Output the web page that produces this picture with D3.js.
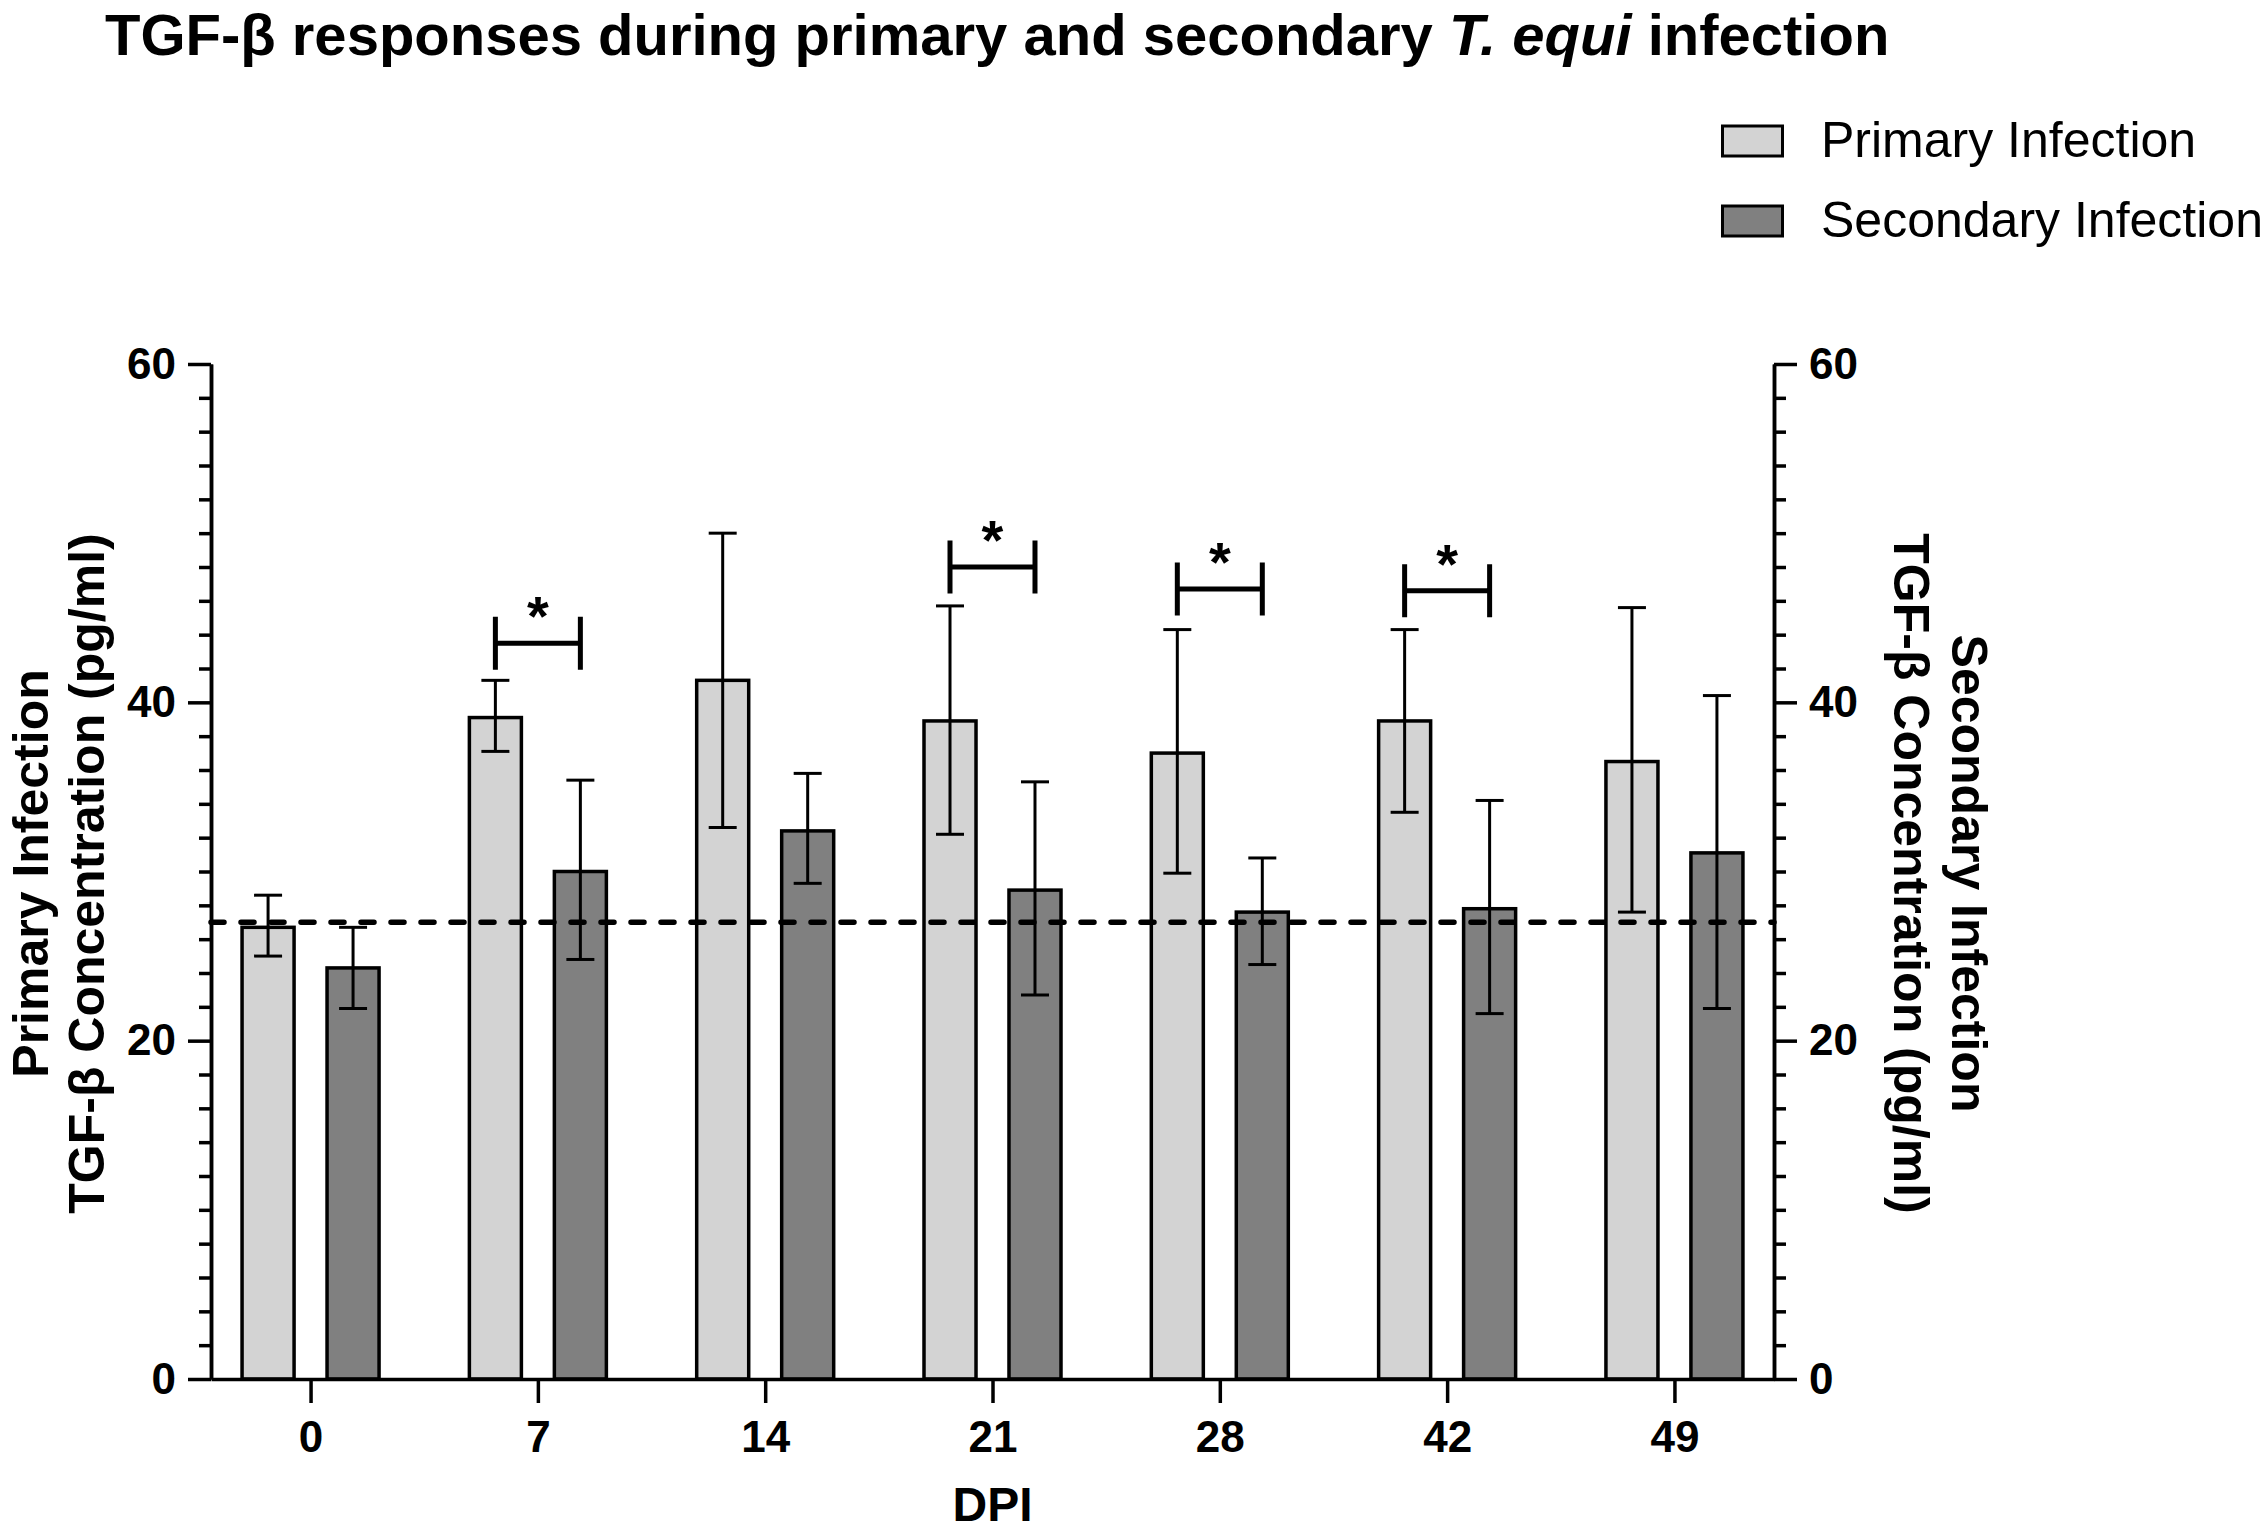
<!DOCTYPE html>
<html>
<head>
<meta charset="utf-8">
<script src="https://cdn.jsdelivr.net/npm/d3@7"></script>
<style>
  body { margin: 0; background: #fff; }
  text { font-family: "Liberation Sans", Arial, sans-serif; }
</style>
</head>
<body>
<div id="main-chart"></div>
<script>
// data
let days = ['0', '7', '14', '21', '28', '42', '49'];
let seriesNames = ['Primary Infection', 'Secondary Infection'];
let primaryMean  = [26.7, 39.1, 41.3, 38.9, 37.0, 38.9, 36.5];
let primaryUp    = [28.6, 41.3, 50.0, 45.7, 44.3, 44.3, 45.6];
let primaryLow   = [25.0, 37.1, 32.6, 32.2, 29.9, 33.5, 27.6];
let secondaryMean = [24.3, 30.0, 32.4, 28.9, 27.6, 27.8, 31.1];
let secondaryUp   = [26.7, 35.4, 35.8, 35.3, 30.8, 34.2, 40.4];
let secondaryLow  = [21.9, 24.8, 29.3, 22.7, 24.5, 21.6, 21.9];
let baselineLevel = 27.0;
let sigDays = ['7', '21', '28', '42'];
let sigLevels = [43.5, 48.0, 46.7, 46.6];
let majorTicks = [0, 20, 40, 60];

let W = 2267, H = 1531;
let plot = {left: 211, right: 1774, top: 364, bottom: 1379};
let colors = ['#d3d3d3', '#808080'];

let svg = d3.select('#main-chart')
  .append('svg')
  .attr('width', W)
  .attr('height', H)
  .style('background', '#fff');

//Scales
let x = d3.scalePoint()
  .domain(days)
  .range([plot.left, plot.right])
  .padding(0.438);

let xSub = d3.scaleBand()
  .domain(seriesNames)
  .range([-68.5, 68.5])
  .paddingInner(0.388)
  .paddingOuter(0);

let y = d3.scaleLinear()
  .domain([0, 60])
  .range([plot.bottom, plot.top]);

let minorTicks = d3.range(0, 61, 2).filter(v => v % 20 !== 0);

//Build rows for bars
let rows = [];
days.forEach((d, i) => {
  rows.push({day: d, s: 0, mean: primaryMean[i], up: primaryUp[i], low: primaryLow[i]});
  rows.push({day: d, s: 1, mean: secondaryMean[i], up: secondaryUp[i], low: secondaryLow[i]});
});
let cx = r => x(r.day) + xSub(seriesNames[r.s]) + xSub.bandwidth() / 2;

//Title
let title = svg.append('text')
  .attr('x', 105)
  .attr('y', 55)
  .style('font-size', '58px')
  .style('font-weight', 'bold');
title.append('tspan').text('TGF-β responses during primary and secondary ');
title.append('tspan').style('font-style', 'italic').text('T. equi');
title.append('tspan').text(' infection');

//Legend
let legend = svg.append('g');
seriesNames.forEach((name, i) => {
  legend.append('rect')
    .attr('x', 1722.5)
    .attr('y', 126 + i * 80)
    .attr('width', 60)
    .attr('height', 30)
    .style('fill', colors[i])
    .style('stroke', '#000')
    .style('stroke-width', 3);
  legend.append('text')
    .attr('x', 1821)
    .attr('y', 157 + i * 80)
    .style('font-size', '50px')
    .text(name);
});

//Bars
svg.selectAll('.bar')
  .data(rows)
  .join('rect')
  .attr('class', 'bar')
  .attr('x', r => x(r.day) + xSub(seriesNames[r.s]))
  .attr('y', r => y(r.mean))
  .attr('width', xSub.bandwidth())
  .attr('height', r => y(0) - y(r.mean))
  .style('fill', r => colors[r.s])
  .style('stroke', '#000')
  .style('stroke-width', 3.5);

//Dashed reference line
svg.append('line')
  .attr('x1', plot.left)
  .attr('x2', plot.right)
  .attr('y1', y(baselineLevel))
  .attr('y2', y(baselineLevel))
  .style('stroke', '#000')
  .style('stroke-width', 5.5)
  .style('stroke-dasharray', '13 17')
  .style('stroke-linecap', 'round');

//Error bars
let err = svg.selectAll('.err')
  .data(rows)
  .join('g')
  .attr('class', 'err')
  .style('stroke', '#000')
  .style('stroke-width', 3);
err.append('line')
  .attr('x1', cx).attr('x2', cx)
  .attr('y1', r => y(r.up)).attr('y2', r => y(r.low));
err.append('line')
  .attr('x1', r => cx(r) - 14).attr('x2', r => cx(r) + 14)
  .attr('y1', r => y(r.up)).attr('y2', r => y(r.up));
err.append('line')
  .attr('x1', r => cx(r) - 14).attr('x2', r => cx(r) + 14)
  .attr('y1', r => y(r.low)).attr('y2', r => y(r.low));

//Significance brackets
let sig = svg.selectAll('.sig')
  .data(sigDays.map((d, i) => ({day: d, level: sigLevels[i]})))
  .join('g')
  .attr('class', 'sig');
let x0 = d => x(d.day) + xSub(seriesNames[0]) + xSub.bandwidth() / 2;
let x1 = d => x(d.day) + xSub(seriesNames[1]) + xSub.bandwidth() / 2;
sig.append('path')
  .attr('d', d => `M${x0(d)},${y(d.level) - 26.5}V${y(d.level) + 26.5}M${x0(d)},${y(d.level)}H${x1(d)}M${x1(d)},${y(d.level) - 26.5}V${y(d.level) + 26.5}`)
  .style('fill', 'none')
  .style('stroke', '#000')
  .style('stroke-width', 5);
sig.append('text')
  .attr('x', d => (x0(d) + x1(d)) / 2)
  .attr('y', d => y(d.level) - 8)
  .attr('text-anchor', 'middle')
  .style('font-size', '56px')
  .style('font-weight', 'bold')
  .text('*');

//Axes
function styleAxis(g) {
  g.selectAll('path, line').style('stroke', '#000').style('stroke-width', 3.5);
  g.selectAll('text')
    .style('font-family', '"Liberation Sans", Arial, sans-serif')
    .style('font-size', '44px')
    .style('font-weight', 'bold')
    .style('fill', '#000');
}

svg.append('g')
  .attr('transform', `translate(${plot.left},0)`)
  .call(d3.axisLeft(y).tickValues(minorTicks).tickSize(12).tickSizeOuter(0).tickFormat(''))
  .call(styleAxis);
svg.append('g')
  .attr('transform', `translate(${plot.left},0)`)
  .call(d3.axisLeft(y).tickValues(majorTicks).tickSize(23).tickSizeOuter(0).tickPadding(12))
  .call(styleAxis);

svg.append('g')
  .attr('transform', `translate(${plot.right},0)`)
  .call(d3.axisRight(y).tickValues(minorTicks).tickSize(12).tickSizeOuter(0).tickFormat(''))
  .call(styleAxis);
svg.append('g')
  .attr('transform', `translate(${plot.right},0)`)
  .call(d3.axisRight(y).tickValues(majorTicks).tickSize(23).tickSizeOuter(0).tickPadding(12))
  .call(styleAxis);

svg.append('g')
  .attr('transform', `translate(0,${plot.bottom})`)
  .call(d3.axisBottom(x).tickSize(24).tickSizeOuter(0).tickPadding(18))
  .call(styleAxis);

//Axis titles
svg.append('text')
  .attr('x', (plot.left + plot.right) / 2)
  .attr('y', 1521)
  .attr('text-anchor', 'middle')
  .style('font-size', '48px')
  .style('font-weight', 'bold')
  .text('DPI');

let midY = (plot.top + plot.bottom) / 2 + 2;
let leftTitle = svg.append('text')
  .attr('transform', `translate(0,${midY}) rotate(-90)`)
  .attr('text-anchor', 'middle')
  .style('font-size', '50px')
  .style('font-weight', 'bold');
leftTitle.append('tspan').attr('x', 0).attr('y', 48).text('Primary Infection');
leftTitle.append('tspan').attr('x', 0).attr('y', 104).text('TGF-β Concentration (pg/ml)');

let rightTitle = svg.append('text')
  .attr('transform', `translate(0,${midY}) rotate(90)`)
  .attr('text-anchor', 'middle')
  .style('font-size', '50px')
  .style('font-weight', 'bold');
rightTitle.append('tspan').attr('x', 0).attr('y', -1952).text('Secondary Infection');
rightTitle.append('tspan').attr('x', 0).attr('y', -1894).text('TGF-β Concentration (pg/ml)');
</script>
</body>
</html>
